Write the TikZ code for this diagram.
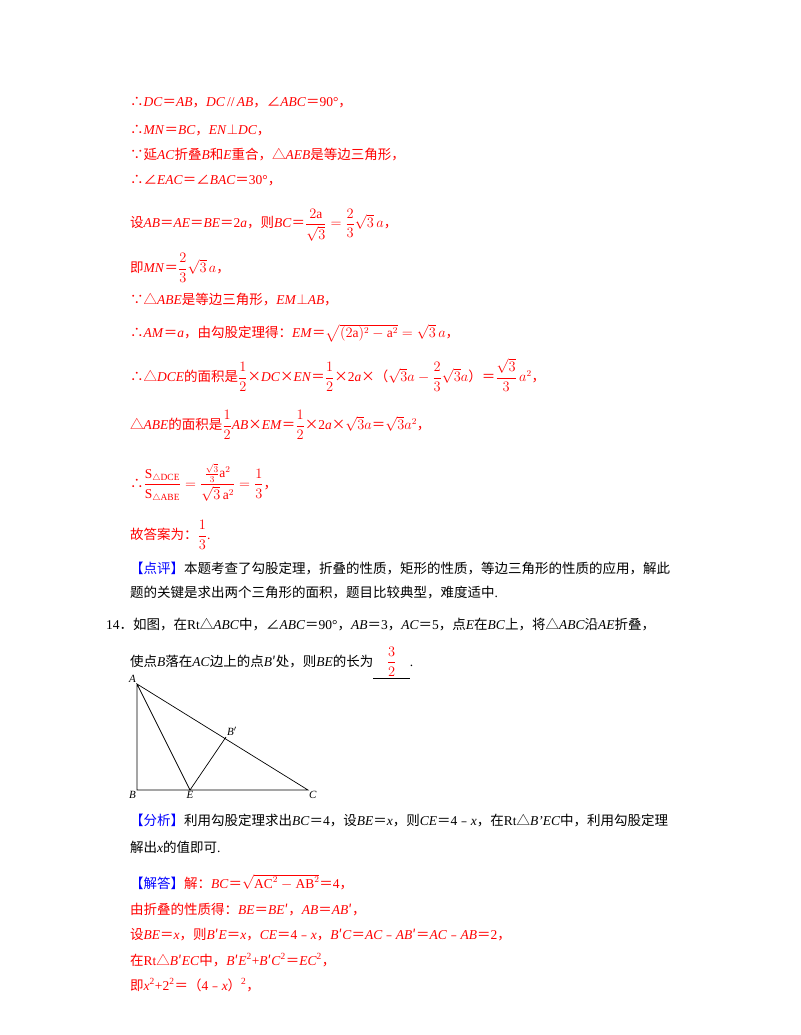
\documentclass[tikz,border=0pt]{standalone}
\usepackage{amsmath}
\usepackage{fontspec}
\setmainfont{Liberation Serif}
\newfontfamily\cjk{Noto Sans CJK SC}
\newcommand\zh[1]{{\cjk #1}}
\newcommand\vi[1]{\textit{#1}}
\definecolor{ans}{RGB}{255,0,0}
\definecolor{tag}{RGB}{0,0,255}
\begin{document}
\begin{tikzpicture}[x=1pt,y=-1pt,
  ln/.style={anchor=west,inner sep=0pt,font=\fontsize{13.5}{16}\selectfont},
  rd/.style={ln,text=ans},
  bk/.style={ln,text=black},
  seg/.style={line width=0.7pt},
  lab/.style={font=\fontsize{11}{12}\selectfont\itshape,inner sep=1pt}]
\useasboundingbox (0,0) rectangle (800,1035);
\node[rd] (l1) at (130,103) {\zh{∴}\vi{DC}\zh{＝}\vi{AB}\zh{，}\vi{DC}{\,//\,}\vi{AB}\zh{，∠}\vi{ABC}\zh{＝}90°\zh{，}};
\node[rd] (l2) at (130,130) {\zh{∴}\vi{MN}\zh{＝}\vi{BC}\zh{，}\vi{EN}$\perp$\vi{DC}\zh{，}};
\node[rd] (l3) at (130,155) {\zh{∵延}\vi{AC}\zh{折叠}\vi{B}\zh{和}\vi{E}\zh{重合，△}\vi{AEB}\zh{是等边三角形，}};
\node[rd] (l4) at (130,181) {\zh{∴∠}\vi{EAC}\zh{＝∠}\vi{BAC}\zh{＝}30°\zh{，}};
\node[rd] (l5) at (130,225) {\zh{设}\vi{AB}\zh{＝}\vi{AE}\zh{＝}\vi{BE}\zh{＝}2\vi{a}\zh{，则}\vi{BC}\zh{＝}$\dfrac{2\mathrm{a}}{\sqrt{3}}=\dfrac{2}{3}\sqrt{3}\,a$\zh{，}};
\node[rd] (l6) at (130,268) {\zh{即}\vi{MN}\zh{＝}$\dfrac{2}{3}\sqrt{3}\,a$\zh{，}};
\node[rd] (l7) at (130,300) {\zh{∵△}\vi{ABE}\zh{是等边三角形，}\vi{EM}$\perp$\vi{AB}\zh{，}};
\node[rd] (l8) at (130,333) {\zh{∴}\vi{AM}\zh{＝}\vi{a}\zh{，由勾股定理得：}\vi{EM}\zh{＝}$\sqrt{(2\mathrm{a})^2-\mathrm{a}^2}=\sqrt{3}\,a$\zh{，}};
\node[rd] (l9) at (130,375) {\zh{∴△}\vi{DCE}\zh{的面积是}$\dfrac12$\zh{×}\vi{DC}\zh{×}\vi{EN}\zh{＝}$\dfrac12$\zh{×}2\vi{a}\zh{×（}$\sqrt3a-\dfrac23\sqrt3a$\zh{）＝}$\dfrac{\sqrt3}{3}\,a^2$\zh{，}};
\node[rd] (l10) at (130,425) {\zh{△}\vi{ABE}\zh{的面积是}$\dfrac12$\vi{AB}\zh{×}\vi{EM}\zh{＝}$\dfrac12$\zh{×}2\vi{a}\zh{×}$\sqrt3a$\zh{＝}$\sqrt3a^2$\zh{，}};
\node[rd] (l11) at (130,483) {\zh{∴}$\dfrac{\mathrm{S}_{\triangle\mathrm{DCE}}}{\mathrm{S}_{\triangle\mathrm{ABE}}}=\dfrac{\frac{\sqrt3}{3}\mathrm{a}^2}{\sqrt3\,\mathrm{a}^2}=\dfrac13$\zh{，}};
\node[rd] (l12) at (130,535) {\zh{故答案为：}$\dfrac13$.};
\node[bk] (l13) at (130,568) {\textcolor{tag}{\zh{【点评】}}\zh{本题考查了勾股定理，折叠的性质，矩形的性质，等边三角形的性质的应用，解此}};
\node[bk] (l14) at (130,593) {\zh{题的关键是求出两个三角形的面积，题目比较典型，难度适中}.};
\node[bk] (l15) at (106,625) {14\zh{．如图，在}Rt\zh{△}\vi{ABC}\zh{中，∠}\vi{ABC}\zh{＝}90°\zh{，}\vi{AB}\zh{＝}3\zh{，}\vi{AC}\zh{＝}5\zh{，点}\vi{E}\zh{在}\vi{BC}\zh{上，将△}\vi{ABC}\zh{沿}\vi{AE}\zh{折叠，}};
\node[bk] (l16) at (130,663) {\zh{使点}\vi{B}\zh{落在}\vi{AC}\zh{边上的点}\vi{B}\zh{′处，则}\vi{BE}\zh{的长为}\underline{\quad\textcolor{ans}{$\dfrac32$}\quad}.};
% diagram
\coordinate (A) at (137,684);
\coordinate (B) at (137,790);
\coordinate (C) at (308,790);
\coordinate (E) at (190,790);
\coordinate (Bp) at (226,737);
\draw[seg] (A) -- (B) -- (C) -- (A) -- (E) -- (Bp);
\node[lab,anchor=south east] (nA) at (A) {A};
\node[lab,anchor=north east] (nB) at (B) {B};
\node[lab,anchor=north] (nE) at (E) {E};
\node[lab,anchor=north west] (nC) at (C) {C};
\node[lab,anchor=south west] (nBp) at (Bp) {B$'$};
\node[bk] (l17) at (130,820) {\textcolor{tag}{\zh{【分析】}}\zh{利用勾股定理求出}\vi{BC}\zh{＝}4\zh{，设}\vi{BE}\zh{＝}\vi{x}\zh{，则}\vi{CE}\zh{＝}4\zh{﹣}\vi{x}\zh{，在}Rt\zh{△}\vi{B'EC}\zh{中，利用勾股定理}};
\node[bk] (l18) at (130,847) {\zh{解出}\vi{x}\zh{的值即可}.};
\node[rd] (l19) at (130,882) {\textcolor{tag}{\zh{【解答】}}\zh{解：}\vi{BC}\zh{＝}$\sqrt{\mathrm{AC}^2-\mathrm{AB}^2}$\zh{＝}4\zh{，}};
\node[rd] (l20) at (130,910) {\zh{由折叠的性质得：}\vi{BE}\zh{＝}\vi{BE}\zh{′，}\vi{AB}\zh{＝}\vi{AB}\zh{′，}};
\node[rd] (l21) at (130,935) {\zh{设}\vi{BE}\zh{＝}\vi{x}\zh{，则}\vi{B}\zh{′}\vi{E}\zh{＝}\vi{x}\zh{，}\vi{CE}\zh{＝}4\zh{﹣}\vi{x}\zh{，}\vi{B}\zh{′}\vi{C}\zh{＝}\vi{AC}\zh{﹣}\vi{AB}\zh{′＝}\vi{AC}\zh{﹣}\vi{AB}\zh{＝}2\zh{，}};
\node[rd] (l22) at (130,960) {\zh{在}Rt\zh{△}\vi{B}\zh{′}\vi{EC}\zh{中，}\vi{B}\zh{′}\vi{E}\textsuperscript{2}+\vi{B}\zh{′}\vi{C}\textsuperscript{2}\zh{＝}\vi{EC}\textsuperscript{2}\zh{，}};
\node[rd] (l23) at (130,985) {\zh{即}\vi{x}\textsuperscript{2}+2\textsuperscript{2}\zh{＝（}4\zh{﹣}\vi{x}\zh{）}\textsuperscript{2}\zh{，}};
\end{tikzpicture}
\end{document}
